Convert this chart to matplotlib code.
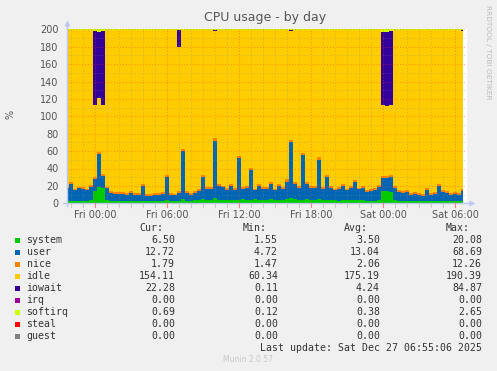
import numpy as np
import matplotlib.pyplot as plt
from matplotlib.patches import Rectangle
from matplotlib.lines import Line2D

# --- CPU samples, 20 min apart, starting Thu 21:40 (hours relative to Fri 00:00) ---
start_hour = -7 / 3
step_hour = 1 / 3

system = [3.1, 3.0, 2.9, 3.2, 3.0, 3.1, 4.0, 14.5, 19.0, 18.0, 4.2, 3.0, 2.8,
          2.9, 3.0, 2.8, 3.1, 2.9, 3.0, 3.2, 2.8, 2.9, 3.0, 3.0, 3.1,
          4.0, 3.0, 3.0, 3.2, 5.0, 3.1, 3.0, 4.0, 4.0, 5.0, 4.0, 4.0, 6.0,
          4.0, 4.2, 3.8, 4.0, 4.1, 4.0, 5.0, 4.0, 4.0, 5.0, 4.0, 4.0,
          4.0, 5.0, 4.0, 4.1, 3.9, 5.0, 6.0, 5.0, 4.0, 4.0, 5.0, 4.0, 4.0,
          5.0, 4.0, 4.0, 4.0, 4.0, 3.0, 4.0, 4.0, 4.0, 4.0, 4.0, 4.0,
          3.0, 3.0, 3.1, 4.0, 14.0, 14.2, 13.5, 4.0, 3.0, 3.0, 3.1, 2.9, 3.0,
          3.0, 2.8, 3.1, 3.0, 3.0, 3.2, 3.0, 2.9, 3.0, 3.0, 3.0, 3.1]

user = [14, 19, 12, 14, 14, 12, 15, 14, 38, 13, 13, 9, 8, 8, 8, 7, 9, 7, 7, 17,
        6, 6, 7, 7, 8,
        26, 7, 6, 9, 55, 9, 7, 8, 10, 25, 13, 13, 66, 16, 14, 12, 16, 11, 48, 12,
        14, 34, 10, 16, 13,
        13, 17, 11, 16, 13, 20, 64, 17, 14, 51, 17, 14, 14, 45, 13, 26, 14, 11,
        14, 16, 11, 14, 20, 12, 14,
        10, 11, 12, 15, 15, 15, 17, 14, 10, 9, 10, 7, 8, 7, 6, 12, 7, 8, 17, 10,
        9, 7, 8, 7, 11]

nice = [2.0, 2.2, 1.9, 2.0, 2.1, 1.8, 2.0, 2.3, 2.5, 2.2, 2.0, 1.9, 1.8, 1.9,
        2.0, 1.8, 1.9, 1.8, 1.9, 2.2, 1.8, 1.8, 1.9, 1.8, 1.9,
        2.3, 1.8, 1.7, 1.9, 2.6, 1.9, 1.8, 1.9, 2.0, 2.4, 2.1, 2.0, 2.8, 2.2,
        2.0, 2.1, 2.2, 2.0, 2.6, 2.0, 2.1, 2.5, 2.0, 2.2, 2.1,
        2.1, 2.3, 2.0, 2.2, 2.0, 2.4, 3.0, 2.2, 2.1, 2.8, 2.2, 2.1, 2.0, 2.7,
        2.0, 2.4, 2.1, 2.0, 2.1, 2.2, 2.0, 2.1, 2.4, 2.0, 2.1,
        1.9, 2.0, 2.0, 2.1, 2.2, 2.2, 2.3, 2.1, 1.9, 1.8, 1.9, 1.8, 1.8, 1.8,
        1.7, 2.0, 1.8, 1.8, 2.2, 1.9, 1.8, 1.8, 1.8, 1.8, 1.9]

iowait = [0.3, 0.3, 0.4, 0.3, 0.8, 0.4, 0.5, 84.0, 76.0, 84.0, 0.6, 0.3, 0.3,
          0.6, 0.3, 0.3, 0.2, 0.3, 0.7, 0.3, 0.2, 0.3, 0.3, 0.2, 0.3,
          0.4, 0.3, 0.7, 20.0, 0.5, 0.9, 0.3, 0.6, 0.3, 0.4, 0.3, 0.3, 0.5,
          0.3, 0.8, 0.3, 0.3, 0.2, 0.4, 0.3, 0.3, 0.6, 0.3, 0.3, 0.2,
          0.3, 0.3, 0.4, 0.3, 0.8, 0.3, 0.5, 0.3, 0.3, 0.4, 0.3, 0.6, 0.3,
          0.4, 0.3, 0.3, 0.3, 0.7, 0.3, 0.3, 0.3, 0.8, 0.3, 0.2, 0.3,
          0.3, 0.2, 0.3, 0.4, 84.0, 85.0, 84.0, 0.5, 0.3, 0.3, 0.2, 0.3, 0.3,
          0.2, 0.6, 0.3, 0.3, 0.2, 0.3, 0.3, 0.7, 0.3, 0.2, 0.3, 1.5]

softirq = [0.4, 0.4, 0.3, 0.4, 0.4, 0.4, 0.6, 2.5, 2.6, 2.5, 0.5, 0.4, 0.3,
           0.3, 0.3, 0.3, 0.4, 0.3, 0.3, 0.4, 0.3, 0.3, 0.3, 0.3, 0.3,
           0.5, 0.3, 0.3, 0.4, 0.8, 0.3, 0.3, 0.4, 0.4, 0.5, 0.4, 0.4, 0.9,
           0.4, 0.4, 0.4, 0.4, 0.4, 0.7, 0.4, 0.4, 0.6, 0.4, 0.4, 0.4,
           0.4, 0.4, 0.4, 0.4, 0.4, 0.5, 0.9, 0.4, 0.4, 0.8, 0.4, 0.4, 0.4,
           0.7, 0.4, 0.5, 0.4, 0.4, 0.4, 0.4, 0.4, 0.4, 0.5, 0.4, 0.4,
           0.3, 0.3, 0.3, 0.4, 2.6, 2.6, 2.5, 0.4, 0.3, 0.3, 0.3, 0.3, 0.3,
           0.3, 0.3, 0.3, 0.3, 0.3, 0.4, 0.3, 0.3, 0.3, 0.3, 0.3, 0.7]

total_capacity = 200.0  # 2 cores
idle = total_capacity - (np.array(system) + np.array(user) + np.array(nice)
                         + np.array(iowait) + np.array(softirq))

hours = start_hour + step_hour * np.arange(len(system))

# --- legend table ---
names = ["system", "user", "nice", "idle", "iowait", "irq", "softirq", "steal", "guest"]
colors = ["#00CC00", "#0066B3", "#FF8000", "#FFCC00", "#330099",
          "#990099", "#CCFF00", "#FF0000", "#808080"]
cur = ["6.50", "12.72", "1.79", "154.11", "22.28", "0.00", "0.69", "0.00", "0.00"]
vmin = ["1.55", "4.72", "1.47", "60.34", "0.11", "0.00", "0.12", "0.00", "0.00"]
vavg = ["3.50", "13.04", "2.06", "175.19", "4.24", "0.00", "0.38", "0.00", "0.00"]
vmax = ["20.08", "68.69", "12.26", "190.39", "84.87", "0.00", "2.65", "0.00", "0.00"]

tick_hours = [0, 6, 12, 18, 24, 30]
tick_labels = ["Fri 00:00", "Fri 06:00", "Fri 12:00", "Fri 18:00", "Sat 00:00", "Sat 06:00"]

W, H = 497, 371
BG = "#F0F0F0"
TXT = "#555555"


def fx(x):
    return x / W


def fy(y):
    return 1 - y / H


fig = plt.figure(figsize=(W / 100, H / 100), dpi=100, facecolor=BG)
ax = fig.add_axes([fx(67), fy(203.3), 400 / W, 174 / H])
ax.set_facecolor("white")

# stacked areas, drawn as steps like rrdtool does
stack = [(system, colors[0]), (user, colors[1]), (nice, colors[2]), (idle, colors[3]),
         (iowait, colors[4]), (softirq, colors[6])]
base = np.zeros(len(hours))
for vals, col in stack:
    top = base + np.asarray(vals, dtype=float)
    ax.fill_between(hours, base, top, step="mid", color=col, lw=0, antialiased=False)
    base = top

ax.set_xlim(-7 / 3, 31.0)
ax.set_ylim(0, 200)

# grid: minor hourly / every 10, major every 6h
for h in np.arange(-2, 31):
    c = (1, 0.2, 0.2, 0.45) if h % 6 == 0 else (0.55, 0.55, 0.55, 0.4)
    ax.axvline(h, color=c, lw=0.7, ls=(0, (1, 2)), zorder=5)
for v in range(10, 201, 10):
    c = (1, 0.2, 0.2, 0.45) if v % 20 == 0 else (0.55, 0.55, 0.55, 0.4)
    ax.axhline(v, color=c, lw=0.7, ls=(0, (1, 2)), zorder=5)

ax.set_yticks(range(0, 201, 20))
ax.set_xticks(tick_hours)
ax.set_xticklabels(tick_labels)
ax.tick_params(axis="both", length=0, labelsize=7, colors=TXT, pad=5)
ax.tick_params(axis="y", pad=6)
for s in ax.spines.values():
    s.set_visible(False)

# axis lines with arrows
axc = "#BCC6F0"
fig.add_artist(Line2D([fx(67), fx(67)], [fy(206), fy(25)], color=axc, lw=1))
fig.add_artist(Line2D([fx(63), fx(470)], [fy(203.3), fy(203.3)], color=axc, lw=1))
fig.add_artist(Line2D([fx(67)], [fy(23)], marker="^", ms=5, color=axc, mec="none"))
fig.add_artist(Line2D([fx(472)], [fy(203.3)], marker=">", ms=5, color=axc, mec="none"))
# small tick marks on the time axis
for h in np.arange(-2, 31):
    xp = 95 + 12 * h
    c = "#FF8080" if h % 6 == 0 else "#C8C8C8"
    fig.add_artist(Line2D([fx(xp), fx(xp)], [fy(203.3), fy(206.5)], color=c, lw=0.8))

fig.text(fx(265), fy(18), "CPU usage - by day", ha="center", va="center",
         fontsize=9, color=TXT)
fig.text(fx(10), fy(114), "%", ha="center", va="center", rotation=90,
         fontsize=7, color=TXT)
fig.text(fx(488), fy(5), "RRDTOOL / TOBI OETIKER", ha="center", va="top",
         rotation=270, fontsize=5.3, color="#BBBBBB")

# legend
mono = dict(family="DejaVu Sans Mono", fontsize=7.1, color="#333333")
header_y = 228
for lbl, xr in zip(["Cur:", "Min:", "Avg:", "Max:"], [163, 267, 368, 470]):
    fig.text(fx(xr), fy(header_y), lbl, ha="right", va="center", **mono)

for k, name in enumerate(names):
    y = 240 + 12 * k
    fig.add_artist(Rectangle((fx(14.5), fy(y + 3)), 5.5 / W, 5.5 / H,
                             transform=fig.transFigure, facecolor=colors[k],
                             edgecolor="none"))
    fig.text(fx(26.5), fy(y), name, ha="left", va="center", **mono)
    for vals, xr in zip([cur, vmin, vavg, vmax], [175, 278, 380, 482]):
        fig.text(fx(xr), fy(y), vals[k], ha="right", va="center", **mono)

fig.text(fx(482), fy(348), "Last update: Sat Dec 27 06:55:06 2025",
         ha="right", va="center", **mono)
fig.text(fx(248), fy(360), "Munin 2.0.57", ha="center", va="center",
         fontsize=5.5, color="#C8C8C8")

fig.savefig("out.png", dpi=100, facecolor=BG)
